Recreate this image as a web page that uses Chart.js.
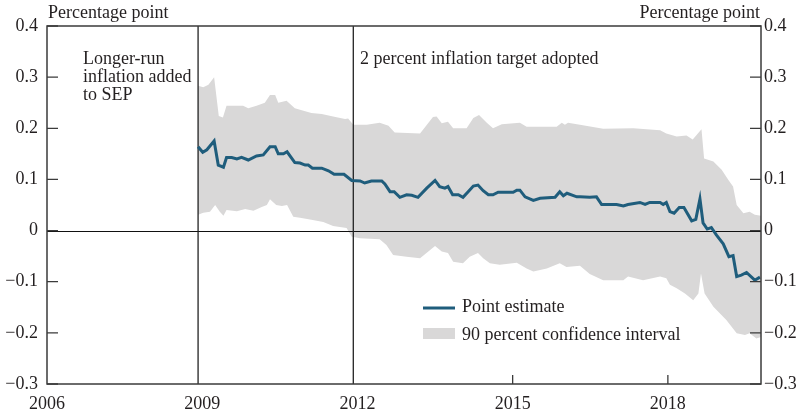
<!DOCTYPE html>
<html>
<head>
<meta charset="utf-8">
<script src="https://cdn.jsdelivr.net/npm/chart.js@4.4.1/dist/chart.umd.min.js"></script>
<style>
  body { margin: 0; background: #fff; }
  #wrap { width: 802px; height: 414px; }
</style>
</head>
<body>
<div id="wrap"><canvas id="myChart" width="802" height="414"></canvas></div>
<script>
// x = decimal year, y = percentage point
const estimateYears = [
  2008.92, 2009.01, 2009.09, 2009.23, 2009.31, 2009.41, 2009.47, 2009.57, 2009.67, 2009.76,
  2009.89, 2010.05, 2010.18, 2010.31, 2010.41, 2010.47, 2010.57, 2010.64, 2010.79, 2010.89,
  2010.99, 2011.05, 2011.13, 2011.31, 2011.44, 2011.55, 2011.74, 2011.89, 2012.05, 2012.14,
  2012.27, 2012.47, 2012.53, 2012.63, 2012.71, 2012.82, 2012.95, 2013.05, 2013.17, 2013.34,
  2013.50, 2013.59, 2013.69, 2013.75, 2013.84, 2013.95, 2014.04, 2014.14, 2014.24, 2014.33,
  2014.43, 2014.53, 2014.62, 2014.72, 2015.01, 2015.08, 2015.14, 2015.24, 2015.40, 2015.53,
  2015.82, 2015.91, 2015.98, 2016.05, 2016.24, 2016.30, 2016.49, 2016.62, 2016.72, 2017.01,
  2017.14, 2017.23, 2017.46, 2017.56, 2017.65, 2017.85, 2017.91, 2017.97, 2018.04, 2018.12,
  2018.22, 2018.31, 2018.46, 2018.54, 2018.62, 2018.68, 2018.76, 2018.84, 2018.94, 2019.07,
  2019.18, 2019.26, 2019.33, 2019.42, 2019.52, 2019.68, 2019.78
];
const estimateValues = [
  0.164, 0.153, 0.158, 0.175, 0.128, 0.124, 0.143, 0.143, 0.140, 0.143,
  0.138, 0.146, 0.148, 0.164, 0.164, 0.150, 0.150, 0.154, 0.133, 0.132,
  0.128, 0.128, 0.122, 0.122, 0.117, 0.110, 0.110, 0.098, 0.097, 0.093,
  0.097, 0.097, 0.091, 0.076, 0.076, 0.065, 0.070, 0.069, 0.065, 0.083,
  0.098, 0.086, 0.083, 0.086, 0.070, 0.070, 0.065, 0.076, 0.087, 0.089,
  0.078, 0.070, 0.070, 0.075, 0.075, 0.079, 0.079, 0.066, 0.059, 0.063,
  0.065, 0.076, 0.068, 0.073, 0.066, 0.066, 0.065, 0.066, 0.051, 0.051,
  0.048, 0.051, 0.055, 0.051, 0.055, 0.055, 0.051, 0.055, 0.037, 0.034,
  0.045, 0.045, 0.019, 0.022, 0.062, 0.015, 0.003, 0.006, -0.009, -0.026,
  -0.051, -0.049, -0.090, -0.087, -0.082, -0.097, -0.091
];

const upperYears = [
  2008.92, 2009.02, 2009.12, 2009.23, 2009.32, 2009.40, 2009.47, 2009.79, 2009.89, 2010.05,
  2010.21, 2010.31, 2010.41, 2010.47, 2010.63, 2010.79, 2010.89, 2011.11, 2011.31, 2011.53,
  2011.76, 2011.82, 2011.92, 2012.18, 2012.43, 2012.60, 2012.72, 2013.21, 2013.46, 2013.53,
  2013.63, 2013.75, 2013.85, 2014.11, 2014.24, 2014.35, 2014.50, 2014.62, 2014.79, 2015.14,
  2015.27, 2015.85, 2015.95, 2016.01, 2016.07, 2016.30, 2016.75, 2017.33, 2017.85, 2017.97,
  2018.17, 2018.36, 2018.48, 2018.65, 2018.70, 2018.88, 2019.04, 2019.17, 2019.26, 2019.33,
  2019.46, 2019.58, 2019.68, 2019.80
];
const upperValues = [
  0.283, 0.280, 0.285, 0.300, 0.224, 0.221, 0.244, 0.244, 0.239, 0.244,
  0.250, 0.265, 0.265, 0.250, 0.254, 0.239, 0.236, 0.230, 0.228, 0.223,
  0.218, 0.219, 0.207, 0.207, 0.211, 0.205, 0.192, 0.190, 0.222, 0.223,
  0.210, 0.213, 0.200, 0.200, 0.220, 0.226, 0.211, 0.200, 0.208, 0.211,
  0.203, 0.203, 0.211, 0.207, 0.211, 0.207, 0.199, 0.200, 0.196, 0.190,
  0.184, 0.186, 0.178, 0.198, 0.141, 0.135, 0.119, 0.099, 0.086, 0.050,
  0.034, 0.037, 0.031, 0.029
];

const lowerYears = [
  2008.92, 2009.02, 2009.15, 2009.25, 2009.34, 2009.41, 2009.47, 2009.67, 2009.83, 2009.99,
  2010.15, 2010.25, 2010.31, 2010.43, 2010.54, 2010.64, 2010.76, 2010.89, 2011.11, 2011.34,
  2011.53, 2011.79, 2011.89, 2012.05, 2012.43, 2012.56, 2012.69, 2012.95, 2013.21, 2013.37,
  2013.50, 2013.63, 2013.75, 2013.85, 2014.04, 2014.17, 2014.33, 2014.43, 2014.56, 2014.75,
  2015.08, 2015.27, 2015.40, 2015.66, 2015.91, 2016.04, 2016.30, 2016.49, 2016.75, 2017.14,
  2017.23, 2017.52, 2017.85, 2017.97, 2018.04, 2018.17, 2018.33, 2018.49, 2018.59, 2018.64,
  2018.71, 2018.88, 2019.13, 2019.33, 2019.49, 2019.58, 2019.71, 2019.80
];
const lowerValues = [
  0.031, 0.035, 0.037, 0.050, 0.037, 0.029, 0.040, 0.038, 0.042, 0.039,
  0.046, 0.050, 0.061, 0.050, 0.048, 0.050, 0.027, 0.025, 0.021, 0.017,
  0.009, 0.005, -0.012, -0.015, -0.017, -0.028, -0.048, -0.051, -0.054, -0.041,
  -0.030, -0.041, -0.044, -0.061, -0.064, -0.051, -0.044, -0.054, -0.064, -0.067,
  -0.063, -0.074, -0.080, -0.074, -0.064, -0.071, -0.069, -0.085, -0.097, -0.097,
  -0.090, -0.097, -0.090, -0.093, -0.106, -0.113, -0.123, -0.136, -0.123, -0.084,
  -0.123, -0.149, -0.175, -0.201, -0.204, -0.201, -0.211, -0.208
];

const xTickYears = [2006, 2009, 2012, 2015, 2018];
const yTickValues = [-0.3, -0.2, -0.1, 0, 0.1, 0.2, 0.3, 0.4];
const eventYears = [2008.92, 2011.92];
const seriesLabels = ['Point estimate', '90 percent confidence interval'];
const unitLabel = 'Percentage point';

const FONT = '"Liberation Serif", "Times New Roman", serif';
const TEXT = '#231f20';
const LINE_COLOR = '#1f5d7c';
const BAND_COLOR = '#d9d8d8';
const AXIS_COLOR = '#3b3b3b';

function toPoints(xs, ys) {
  return xs.map((x, i) => ({ x: x, y: ys[i] }));
}

function fmtY(v) {
  if (Math.abs(v) < 1e-9) return '0';
  return (v < 0 ? '\u2212' : '') + Math.abs(v).toFixed(1);
}

// lines and labels that Chart.js core doesn't draw for us
const decorations = {
  id: 'decorations',
  beforeDatasetDraw(chart, args) {
    if (args.index !== 0) return;
    const { ctx, chartArea: a, scales } = chart;
    ctx.save();
    // zero line
    const y0 = Math.round(scales.y.getPixelForValue(0)) + 0.5;
    ctx.strokeStyle = '#111';
    ctx.lineWidth = 1;
    ctx.beginPath();
    ctx.moveTo(a.left, y0);
    ctx.lineTo(a.right, y0);
    ctx.stroke();
    // event lines
    ctx.strokeStyle = '#222';
    ctx.lineWidth = 1.3;
    eventYears.forEach(yr => {
      const x = scales.x.getPixelForValue(yr);
      ctx.beginPath();
      ctx.moveTo(x, a.top);
      ctx.lineTo(x, a.bottom);
      ctx.stroke();
    });
    ctx.restore();
  },
  afterDraw(chart) {
    const { ctx, chartArea: a, scales } = chart;
    ctx.save();
    // frame
    ctx.strokeStyle = AXIS_COLOR;
    ctx.lineWidth = 1.5;
    ctx.strokeRect(a.left, a.top, a.right - a.left, a.bottom - a.top);
    // inward ticks on both y axes
    ctx.lineWidth = 1.3;
    yTickValues.forEach(v => {
      const y = scales.y.getPixelForValue(v);
      ctx.beginPath();
      ctx.moveTo(a.left, y);
      ctx.lineTo(a.left + 11, y);
      ctx.moveTo(a.right - 11, y);
      ctx.lineTo(a.right, y);
      ctx.stroke();
    });
    // x ticks (2009 and 2012 are covered by the event lines)
    xTickYears.slice(3).forEach(yr => {
      const x = scales.x.getPixelForValue(yr);
      ctx.beginPath();
      ctx.moveTo(x, a.bottom);
      ctx.lineTo(x, a.bottom - 9);
      ctx.stroke();
    });

    ctx.fillStyle = TEXT;
    ctx.font = '18px ' + FONT;
    ctx.textBaseline = 'alphabetic';
    ctx.textAlign = 'left';
    ctx.fillText(unitLabel, a.left + 1, 18);
    ctx.textAlign = 'right';
    ctx.fillText(unitLabel, a.right - 1, 18);

    ctx.textAlign = 'left';
    ctx.fillText('Longer-run', 83, 64);
    ctx.fillText('inflation added', 83, 82);
    ctx.fillText('to SEP', 83, 100);
    ctx.fillText('2 percent inflation target adopted', 360, 64);

    // legend
    ctx.strokeStyle = LINE_COLOR;
    ctx.lineWidth = 3;
    ctx.beginPath();
    ctx.moveTo(423, 308);
    ctx.lineTo(455, 308);
    ctx.stroke();
    ctx.fillStyle = BAND_COLOR;
    ctx.fillRect(423, 328, 32, 11);
    ctx.fillStyle = TEXT;
    ctx.fillText(seriesLabels[0], 462, 312);
    ctx.fillText(seriesLabels[1], 462, 340);
    ctx.restore();
  }
};

const yScale = (pos, width, pad) => ({
  position: pos,
  min: -0.3,
  max: 0.4,
  afterBuildTicks: s => { s.ticks = yTickValues.map(v => ({ value: v })); },
  afterFit: s => { s.width = width; },
  grid: { display: false, drawTicks: false },
  border: { display: false },
  ticks: {
    padding: pad,
    color: TEXT,
    font: { family: FONT, size: 18 },
    callback: v => fmtY(v)
  }
});

new Chart(document.getElementById('myChart'), {
  type: 'line',
  data: {
    datasets: [
      {
        label: seriesLabels[0],
        data: toPoints(estimateYears, estimateValues),
        borderColor: LINE_COLOR,
        borderWidth: 3,
        pointRadius: 0,
        tension: 0,
        fill: false
      },
      {
        label: 'upper',
        data: toPoints(upperYears, upperValues),
        borderColor: 'rgba(0,0,0,0)',
        borderWidth: 0,
        pointRadius: 0,
        backgroundColor: BAND_COLOR,
        fill: '+1'
      },
      {
        label: 'lower',
        data: toPoints(lowerYears, lowerValues),
        borderColor: 'rgba(0,0,0,0)',
        borderWidth: 0,
        pointRadius: 0,
        fill: false
      }
    ]
  },
  options: {
    responsive: false,
    animation: false,
    layout: { padding: { top: 26, left: 0, right: 0, bottom: 0 } },
    plugins: { legend: { display: false }, tooltip: { enabled: false } },
    scales: {
      x: {
        type: 'linear',
        min: 2006,
        max: 2019.8,
        afterBuildTicks: s => { s.ticks = xTickYears.map(v => ({ value: v })); },
        afterFit: s => { s.height = 30; },
        grid: { display: false, drawTicks: false },
        border: { display: false },
        ticks: {
          padding: 9,
          maxRotation: 0,
          autoSkip: false,
          color: TEXT,
          font: { family: FONT, size: 18 },
          callback: v => String(v)
        }
      },
      y: yScale('left', 47, 9),
      y2: yScale('right', 41, 3)
    }
  },
  plugins: [decorations]
});
</script>
</body>
</html>
